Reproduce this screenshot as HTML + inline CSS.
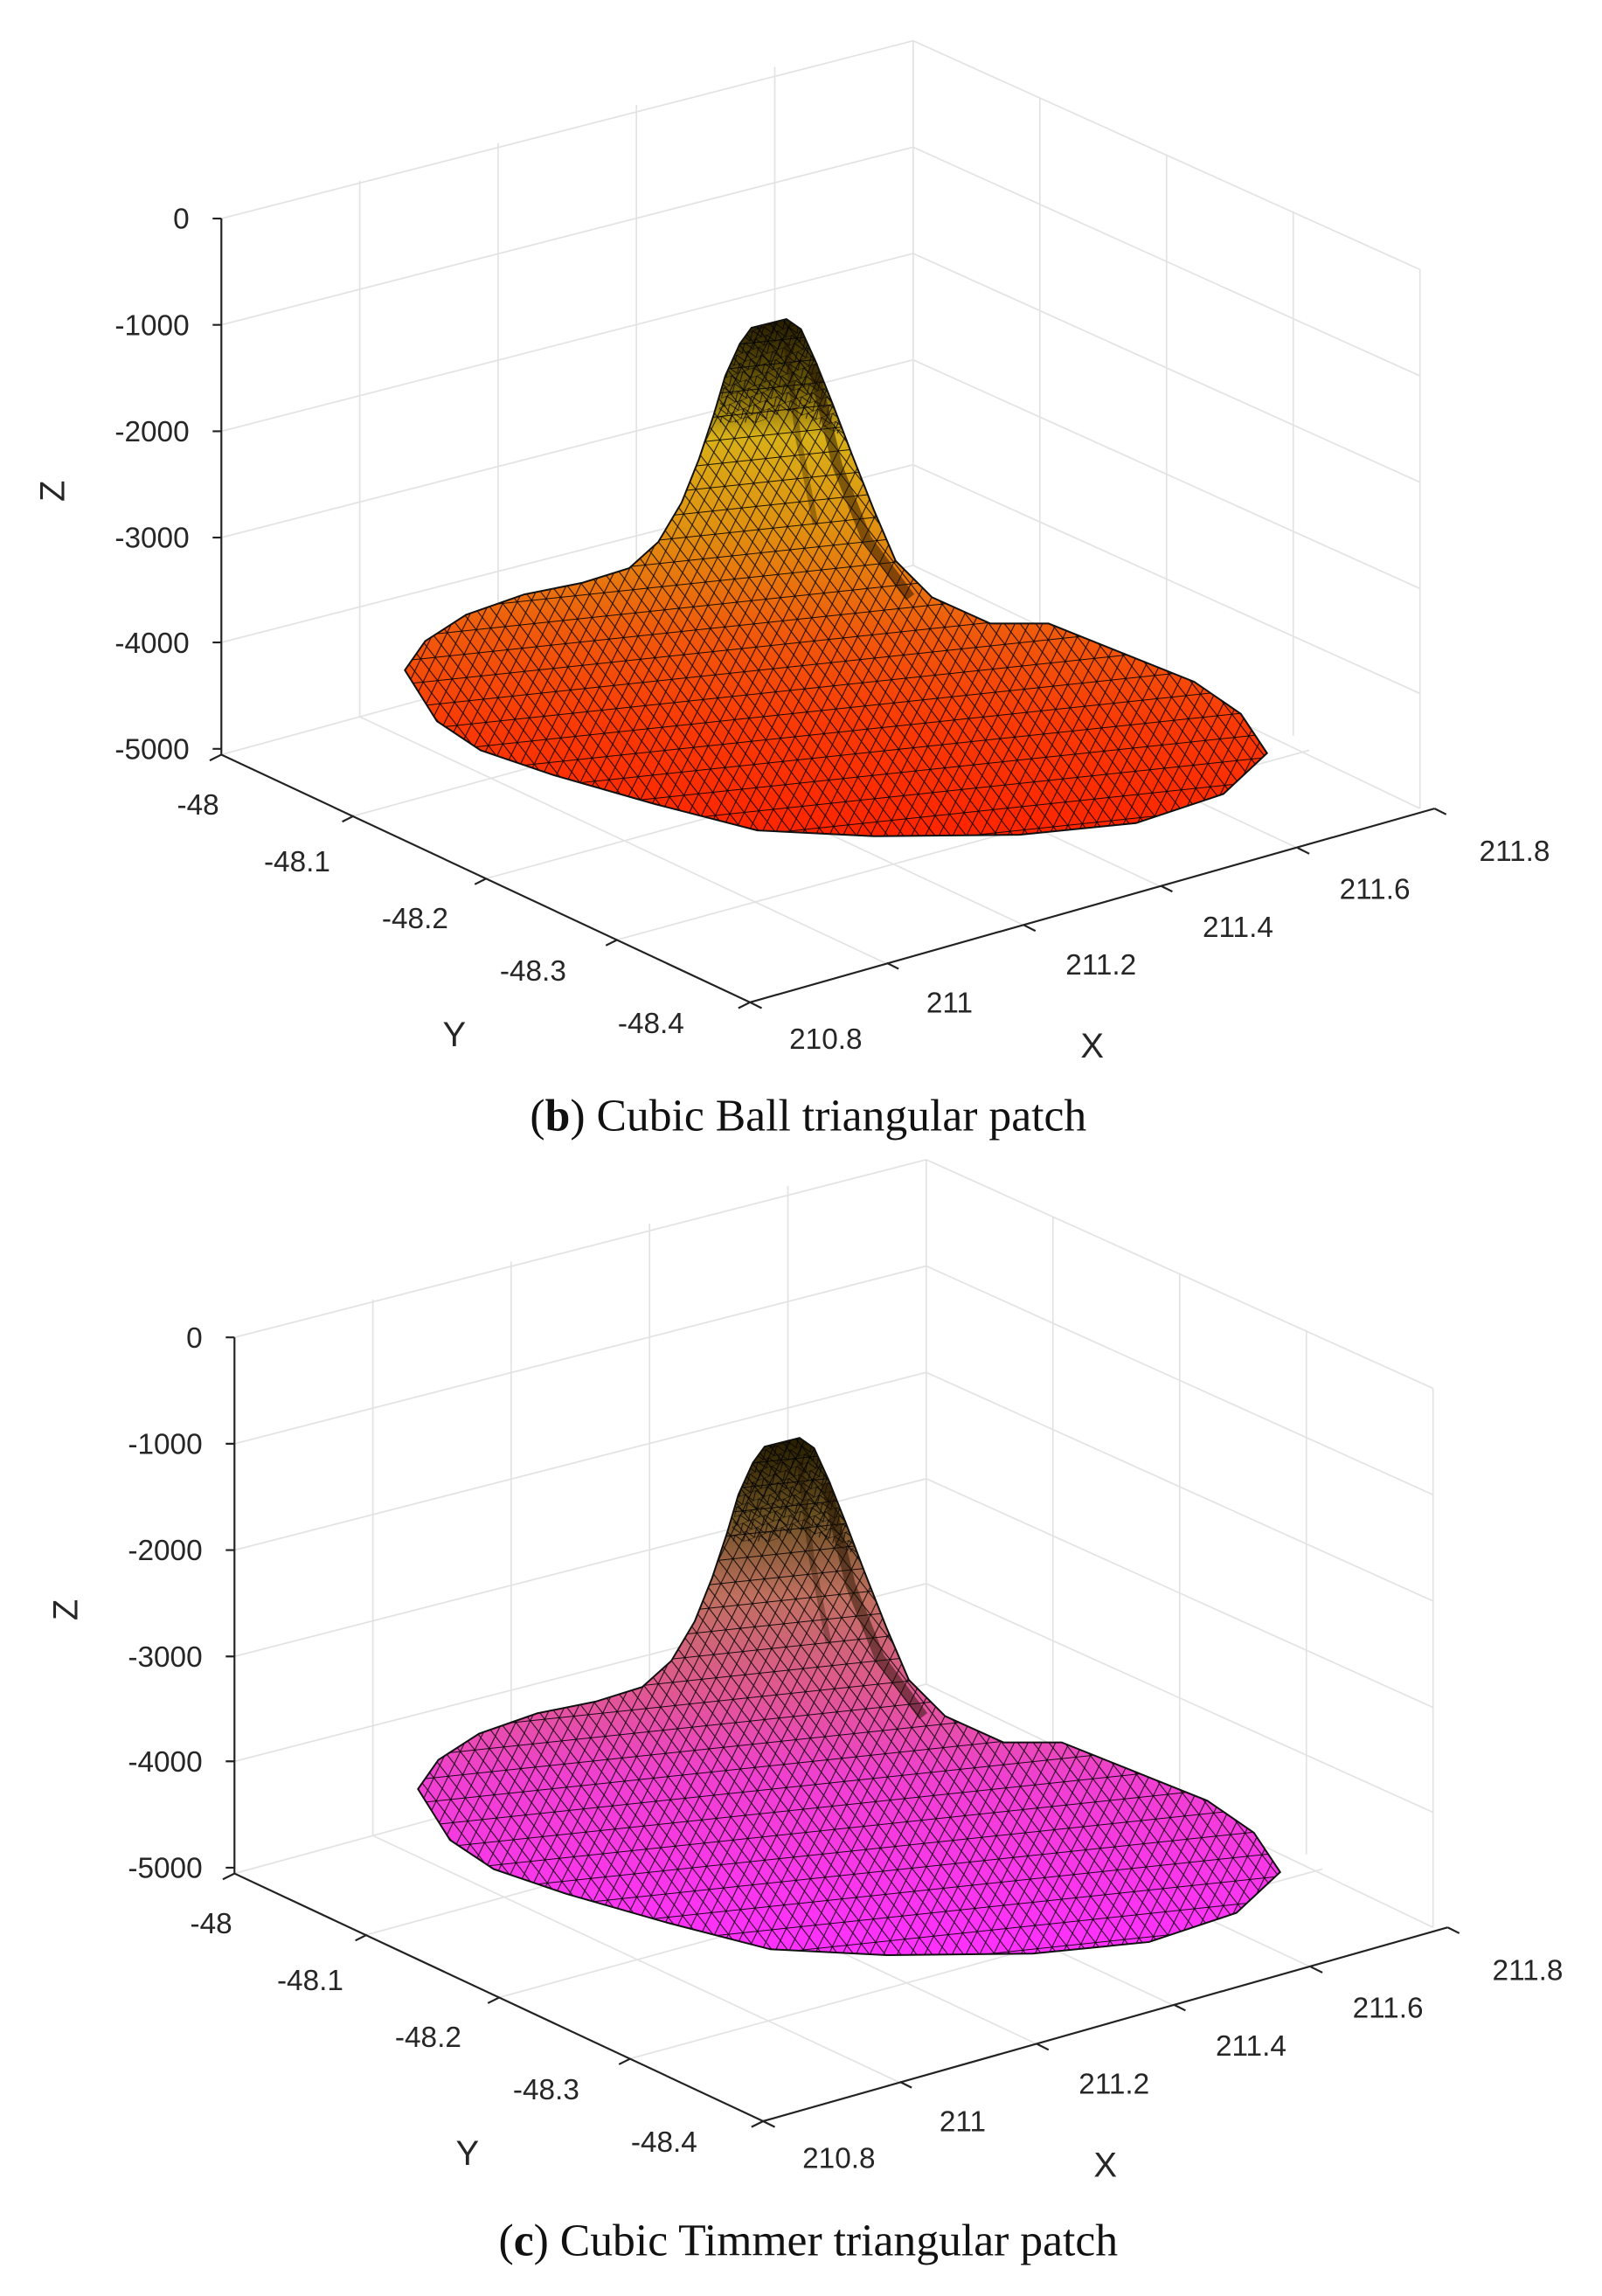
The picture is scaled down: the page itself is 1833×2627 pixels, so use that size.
<!DOCTYPE html>
<html><head><meta charset="utf-8"><style>html,body{margin:0;padding:0;background:#fff}svg{display:block}</style></head>
<body>
<svg width="1833" height="2627" viewBox="0 0 1100 1576" preserveAspectRatio="none" xmlns="http://www.w3.org/2000/svg">
<defs>
<pattern id="mesh" width="20" height="16" patternUnits="userSpaceOnUse" patternTransform="rotate(-6)">
<path d="M0 0H20M0 16H20M0 0L10 16L20 0M10 0L0 16M10 0L20 16" stroke="#000" stroke-width="0.6" fill="none"/>
</pattern>
<pattern id="meshfine" width="8" height="6" patternUnits="userSpaceOnUse" patternTransform="rotate(-20)">
<path d="M0 0H8M0 0L4 6M8 0L4 6" stroke="#000" stroke-width="0.6" fill="none"/>
</pattern>
<linearGradient id="gb" x1="0" y1="222" x2="0" y2="575" gradientUnits="userSpaceOnUse">
<stop offset="0" stop-color="#2a2000"/><stop offset="0.12" stop-color="#6a5808"/><stop offset="0.22" stop-color="#d8b018"/><stop offset="0.4" stop-color="#e09010"/><stop offset="0.6" stop-color="#f05a0c"/><stop offset="0.78" stop-color="#fa3a06"/><stop offset="1" stop-color="#ff2400"/>
</linearGradient>
<linearGradient id="gc" x1="0" y1="222" x2="0" y2="575" gradientUnits="userSpaceOnUse">
<stop offset="0" stop-color="#2a2000"/><stop offset="0.14" stop-color="#6a5020"/><stop offset="0.3" stop-color="#c07060"/><stop offset="0.48" stop-color="#e05890"/><stop offset="0.65" stop-color="#f040d0"/><stop offset="1" stop-color="#ff30ff"/>
</linearGradient>
<g id="axes">
<g stroke="#e2e2e2" stroke-width="1" fill="none">
<path d="M247 124V492M342 98V466M437 72V440M532 46V414"/>
<path d="M714 67V427M801 106V466M888 145V505"/>
<path d="M152 223L627 101L975 258M152 296L627 174L975 331M152 369L627 247L975 404M152 441L627 319L975 476"/>
<path d="M243 560L718 430M334 603L809 473M424 645L899 515M247 492L610 662M342 466L705 636M437 440L800 610M532 414L895 584"/>
<path d="M152 150L627 28L975 185M627 28V388M975 185V555M152 518L627 388L975 555"/>
</g>
<g stroke="#222" stroke-width="1.3" fill="none">
<path d="M152 150V518L515 688L985 555"/>
<path d="M152 150h-6M152 223h-6M152 296h-6M152 369h-6M152 441h-6M152 514h-6"/>
<path d="M152 518l-8 4M243 560l-8 4M334 603l-8 4M424 645l-8 4M515 688l-8 4"/>
<path d="M515 688l8 4M609 661l8 4M703 635l8 4M797 608l8 4M891 582l8 4M985 555l8 4"/>
</g>
<g font-family="Liberation Sans, sans-serif" font-size="20" fill="#262626">
<g text-anchor="end"><text x="130" y="157">0</text><text x="130" y="230">-1000</text><text x="130" y="303">-2000</text><text x="130" y="376">-3000</text><text x="130" y="448">-4000</text><text x="130" y="521">-5000</text></g>
<g text-anchor="middle"><text x="136" y="559">-48</text><text x="204" y="598">-48.1</text><text x="285" y="637">-48.2</text><text x="366" y="673">-48.3</text><text x="447" y="709">-48.4</text>
<text x="567" y="720">210.8</text><text x="652" y="695">211</text><text x="756" y="669">211.2</text><text x="850" y="643">211.4</text><text x="944" y="617">211.6</text><text x="1040" y="591">211.8</text></g>
<text x="312" y="718" font-size="24" text-anchor="middle">Y</text>
<text x="750" y="726" font-size="24" text-anchor="middle">X</text>
<text transform="translate(44,337) rotate(-90)" font-size="24" text-anchor="middle">Z</text>
</g>
</g>
<path id="shape" d="M278 460L292 440L320 422L360 408L400 400L432 390L452 372L468 345L480 315L490 285L498 258L508 236L516 225L528 222L540 219L550 226L560 248L572 278L585 312L600 350L615 385L640 410L680 428L720 428L765 446L820 468L852 490L870 517L840 545L780 565L700 573L600 574L520 570L450 552L380 532L330 515L300 495Z"/>
<path id="peak" d="M492 290L498 258L508 236L516 225L528 222L540 219L550 226L560 248L572 278L580 300L560 290L540 282L520 290Z"/>
</defs>

<g>
<use href="#axes"/>
<use href="#shape" fill="url(#gb)"/>
<use href="#shape" fill="url(#mesh)" opacity="0.9"/>
<use href="#peak" fill="url(#meshfine)" opacity="0.8"/>
<path d="M558 250L575 320L595 370L625 410" stroke="#201000" stroke-width="7" fill="none" opacity="0.5"/>
<path d="M540 235L548 300L560 360" stroke="#201000" stroke-width="4" fill="none" opacity="0.35"/>
<use href="#shape" fill="none" stroke="#111" stroke-width="1.2"/>
</g>
<text x="555" y="776" font-family="Liberation Serif, serif" font-size="31" text-anchor="middle" fill="#111">(<tspan font-weight="bold">b</tspan>) Cubic Ball triangular patch</text>

<g transform="translate(9,768)">
<use href="#axes"/>
<use href="#shape" fill="url(#gc)"/>
<use href="#shape" fill="url(#mesh)" opacity="0.9"/>
<use href="#peak" fill="url(#meshfine)" opacity="0.8"/>
<path d="M558 250L575 320L595 370L625 410" stroke="#201000" stroke-width="7" fill="none" opacity="0.5"/>
<path d="M540 235L548 300L560 360" stroke="#201000" stroke-width="4" fill="none" opacity="0.35"/>
<use href="#shape" fill="none" stroke="#111" stroke-width="1.2"/>
</g>
<text x="555" y="1548" font-family="Liberation Serif, serif" font-size="31" text-anchor="middle" fill="#111">(<tspan font-weight="bold">c</tspan>) Cubic Timmer triangular patch</text>
</svg>
</body></html>
